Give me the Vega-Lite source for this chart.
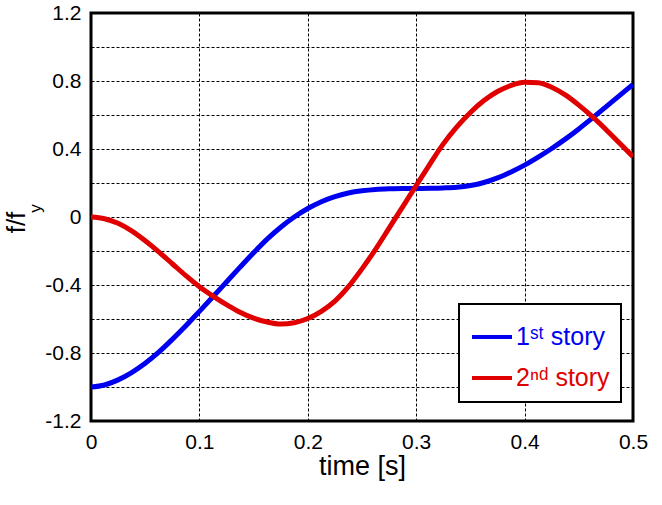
{
  "$schema": "https://vega.github.io/schema/vega-lite/v6.json",
  "autosize": {"type": "none"},
  "padding": {"left": 91, "top": 13, "right": 29, "bottom": 84},
  "width": 542,
  "height": 408,
  "background": "white",
  "data": {
    "values": [
      {"t": 0, "f": -1.0, "s": "1ˢᵗ story"},
      {"t": 0.0125, "f": -0.988, "s": "1ˢᵗ story"},
      {"t": 0.025, "f": -0.958, "s": "1ˢᵗ story"},
      {"t": 0.0375, "f": -0.915, "s": "1ˢᵗ story"},
      {"t": 0.05, "f": -0.86, "s": "1ˢᵗ story"},
      {"t": 0.0625, "f": -0.795, "s": "1ˢᵗ story"},
      {"t": 0.075, "f": -0.72, "s": "1ˢᵗ story"},
      {"t": 0.0875, "f": -0.64, "s": "1ˢᵗ story"},
      {"t": 0.1, "f": -0.555, "s": "1ˢᵗ story"},
      {"t": 0.1125, "f": -0.469, "s": "1ˢᵗ story"},
      {"t": 0.125, "f": -0.382, "s": "1ˢᵗ story"},
      {"t": 0.1375, "f": -0.295, "s": "1ˢᵗ story"},
      {"t": 0.15, "f": -0.21, "s": "1ˢᵗ story"},
      {"t": 0.1625, "f": -0.13, "s": "1ˢᵗ story"},
      {"t": 0.175, "f": -0.06, "s": "1ˢᵗ story"},
      {"t": 0.1875, "f": 0.0, "s": "1ˢᵗ story"},
      {"t": 0.2, "f": 0.05, "s": "1ˢᵗ story"},
      {"t": 0.2125, "f": 0.09, "s": "1ˢᵗ story"},
      {"t": 0.225, "f": 0.12, "s": "1ˢᵗ story"},
      {"t": 0.2375, "f": 0.141, "s": "1ˢᵗ story"},
      {"t": 0.25, "f": 0.154, "s": "1ˢᵗ story"},
      {"t": 0.2625, "f": 0.162, "s": "1ˢᵗ story"},
      {"t": 0.275, "f": 0.166, "s": "1ˢᵗ story"},
      {"t": 0.2875, "f": 0.168, "s": "1ˢᵗ story"},
      {"t": 0.3, "f": 0.168, "s": "1ˢᵗ story"},
      {"t": 0.3125, "f": 0.169, "s": "1ˢᵗ story"},
      {"t": 0.325, "f": 0.171, "s": "1ˢᵗ story"},
      {"t": 0.3375, "f": 0.175, "s": "1ˢᵗ story"},
      {"t": 0.35, "f": 0.185, "s": "1ˢᵗ story"},
      {"t": 0.3625, "f": 0.203, "s": "1ˢᵗ story"},
      {"t": 0.375, "f": 0.23, "s": "1ˢᵗ story"},
      {"t": 0.3875, "f": 0.265, "s": "1ˢᵗ story"},
      {"t": 0.4, "f": 0.305, "s": "1ˢᵗ story"},
      {"t": 0.4125, "f": 0.352, "s": "1ˢᵗ story"},
      {"t": 0.425, "f": 0.403, "s": "1ˢᵗ story"},
      {"t": 0.4375, "f": 0.458, "s": "1ˢᵗ story"},
      {"t": 0.45, "f": 0.518, "s": "1ˢᵗ story"},
      {"t": 0.4625, "f": 0.582, "s": "1ˢᵗ story"},
      {"t": 0.475, "f": 0.648, "s": "1ˢᵗ story"},
      {"t": 0.4875, "f": 0.714, "s": "1ˢᵗ story"},
      {"t": 0.5, "f": 0.78, "s": "1ˢᵗ story"},
      {"t": 0, "f": 0, "s": "2ⁿᵈ story"},
      {"t": 0.0125, "f": -0.01, "s": "2ⁿᵈ story"},
      {"t": 0.025, "f": -0.037, "s": "2ⁿᵈ story"},
      {"t": 0.0375, "f": -0.082, "s": "2ⁿᵈ story"},
      {"t": 0.05, "f": -0.14, "s": "2ⁿᵈ story"},
      {"t": 0.0625, "f": -0.205, "s": "2ⁿᵈ story"},
      {"t": 0.075, "f": -0.275, "s": "2ⁿᵈ story"},
      {"t": 0.0875, "f": -0.345, "s": "2ⁿᵈ story"},
      {"t": 0.1, "f": -0.41, "s": "2ⁿᵈ story"},
      {"t": 0.1125, "f": -0.465, "s": "2ⁿᵈ story"},
      {"t": 0.125, "f": -0.515, "s": "2ⁿᵈ story"},
      {"t": 0.1375, "f": -0.56, "s": "2ⁿᵈ story"},
      {"t": 0.15, "f": -0.595, "s": "2ⁿᵈ story"},
      {"t": 0.1625, "f": -0.618, "s": "2ⁿᵈ story"},
      {"t": 0.175, "f": -0.63, "s": "2ⁿᵈ story"},
      {"t": 0.1875, "f": -0.622, "s": "2ⁿᵈ story"},
      {"t": 0.2, "f": -0.597, "s": "2ⁿᵈ story"},
      {"t": 0.2125, "f": -0.555, "s": "2ⁿᵈ story"},
      {"t": 0.225, "f": -0.495, "s": "2ⁿᵈ story"},
      {"t": 0.2375, "f": -0.41, "s": "2ⁿᵈ story"},
      {"t": 0.25, "f": -0.305, "s": "2ⁿᵈ story"},
      {"t": 0.2625, "f": -0.19, "s": "2ⁿᵈ story"},
      {"t": 0.275, "f": -0.065, "s": "2ⁿᵈ story"},
      {"t": 0.2875, "f": 0.06, "s": "2ⁿᵈ story"},
      {"t": 0.3, "f": 0.185, "s": "2ⁿᵈ story"},
      {"t": 0.3125, "f": 0.31, "s": "2ⁿᵈ story"},
      {"t": 0.325, "f": 0.43, "s": "2ⁿᵈ story"},
      {"t": 0.3375, "f": 0.53, "s": "2ⁿᵈ story"},
      {"t": 0.35, "f": 0.615, "s": "2ⁿᵈ story"},
      {"t": 0.3625, "f": 0.685, "s": "2ⁿᵈ story"},
      {"t": 0.375, "f": 0.738, "s": "2ⁿᵈ story"},
      {"t": 0.3875, "f": 0.774, "s": "2ⁿᵈ story"},
      {"t": 0.4, "f": 0.793, "s": "2ⁿᵈ story"},
      {"t": 0.4125, "f": 0.79, "s": "2ⁿᵈ story"},
      {"t": 0.425, "f": 0.763, "s": "2ⁿᵈ story"},
      {"t": 0.4375, "f": 0.718, "s": "2ⁿᵈ story"},
      {"t": 0.45, "f": 0.658, "s": "2ⁿᵈ story"},
      {"t": 0.4625, "f": 0.59, "s": "2ⁿᵈ story"},
      {"t": 0.475, "f": 0.515, "s": "2ⁿᵈ story"},
      {"t": 0.4875, "f": 0.435, "s": "2ⁿᵈ story"},
      {"t": 0.5, "f": 0.355, "s": "2ⁿᵈ story"}
    ]
  },
  "layer": [
    {
      "mark": {"type": "line", "strokeWidth": 5, "clip": true, "interpolate": "monotone"},
      "encoding": {
        "x": {
          "field": "t", "type": "quantitative", "title": "time [s]",
          "scale": {"domain": [0, 0.5], "nice": false},
          "axis": {"values": [0, 0.1, 0.2, 0.3, 0.4, 0.5], "format": ".1~f"}
        },
        "y": {
          "field": "f", "type": "quantitative", "title": "f/f",
          "scale": {"domain": [-1.2, 1.2], "nice": false},
          "axis": {
            "values": [-1.2, -1, -0.8, -0.6, -0.4, -0.2, 0, 0.2, 0.4, 0.6, 0.8, 1, 1.2],
            "format": ".1~f",
            "labelExpr": "abs(round(datum.value * 10)) % 4 == 0 ? replace(datum.label, '−', '-') : ''",
            "titleFontSize": 26,
            "titleX": -75, "titleY": 209, "titleAngle": -90,
            "titleAlign": "center", "titleBaseline": "middle"
          }
        },
        "color": {
          "field": "s", "type": "nominal",
          "scale": {"domain": ["1ˢᵗ story", "2ⁿᵈ story"], "range": ["#0000f0", "#e00000"]},
          "legend": {
            "title": null,
            "orient": "none",
            "legendX": 368,
            "legendY": 291,
            "symbolType": "stroke",
            "symbolSize": 1600,
            "symbolStrokeWidth": 4,
            "labelFontSize": 25,
            "labelFont": "Liberation Sans",
            "labelOffset": 2,
            "rowPadding": 6,
            "padding": 11,
            "strokeColor": "black",
            "fillColor": "white",
            "encode": {
              "legend": {"update": {"strokeWidth": {"value": 2}}},
              "labels": {"update": {"fill": {"scale": "color", "field": "value"}}}
            }
          }
        }
      }
    },
    {
      "mark": {"type": "line", "strokeOpacity": 0},
      "encoding": {
        "x": {"field": "t", "type": "quantitative"},
        "y": {
          "field": "f", "type": "quantitative", "title": "y",
          "axis": {
            "orient": "left", "labels": false, "ticks": false, "domain": false, "grid": false,
            "titleFontSize": 17, "titleX": -56, "titleY": 195, "titleAngle": -90,
            "titleAlign": "center", "titleBaseline": "middle"
          }
        },
        "detail": {"field": "s"}
      }
    }
  ],
  "resolve": {"axis": {"y": "independent"}},
  "config": {
    "view": {"stroke": "black", "strokeWidth": 3},
    "font": "Liberation Sans",
    "axis": {
      "domain": false,
      "ticks": false,
      "grid": true,
      "gridColor": "black",
      "gridOpacity": 1,
      "gridWidth": 1,
      "gridDash": [3, 2],
      "labelFont": "Liberation Sans",
      "labelFontSize": 21,
      "labelColor": "black",
      "labelPadding": 10,
      "labelFlush": false,
      "labelOverlap": false,
      "titleFont": "Liberation Sans",
      "titleFontSize": 27,
      "titleFontWeight": "normal",
      "titleColor": "black"
    },
    "axisX": {"titlePadding": 1, "labelPadding": 10}
  }
}
